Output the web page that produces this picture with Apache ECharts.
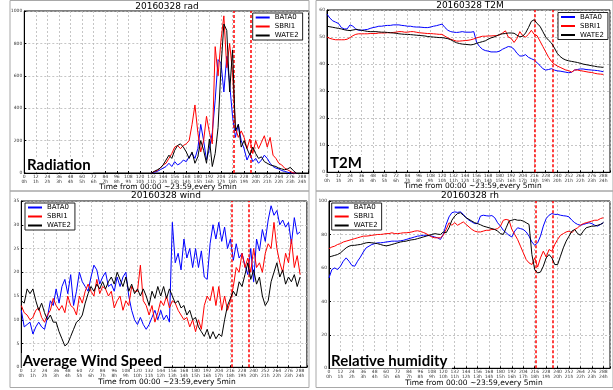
<!DOCTYPE html>
<html><head><meta charset="utf-8">
<script src="https://cdn.jsdelivr.net/npm/echarts@6/dist/echarts.min.js"></script>
<style>html,body{margin:0;padding:0;background:#fff}#c{width:613px;height:390px}</style>
</head><body><div id="c"></div>
<script>
// ---------- DATA ----------
const names = ['BATA0', 'SBRI1', 'WATE2'];
const T = [0,3,6,9,12,15,18,21,24,27,30,33,36,39,42,45,48,51,54,57,60,63,66,69,72,75,78,81,84,87,90,93,96,99,102,105,108,111,114,117,120,123,126,129,132,135,138,141,144,147,150,153,156,159,162,165,168,171,174,177,180,183,186,189,192,195,198,201,204,207,210,213,216,219,222,225,228,231,234,237,240,243,246,249,252,255,258,261,264,267,270,273,276,279,282,285,288];
const tRad = [132,135,138,141,144,147,150,153,156,159,162,165,168,171,174,177,180,183,186,189,192,195,198,201,204,207,210,213,216,219,222,225,228,231,234,237,240,243,246,249,252,255,258,261,264,267,270,273,276,279,282];

const radBlue = [0,5,10,20,30,40,60,40,70,50, 60,80,70,100,120,90,150,300,200,80, 150,250,450,700,680,500,720,550,350,220, 300,200,150,80,120,70,90,60,80,110, 90,60,40,30,25,15,10,5,0,0, 0];
const radRed = [0,10,15,30,50,60,90,120,160,170, 150,170,180,200,300,420,250,130,200,350, 250,180,780,600,820,970,650,800,620,280, 220,260,220,150,210,120,200,150,190,230, 160,220,110,90,60,50,30,20,10,0, 0];
const radBlack = [0,10,20,30,50,80,110,90,140,170, 180,160,130,90,130,60,100,200,140,60, 210,40,120,280,650,920,880,500,760,260, 300,160,200,150,110,160,120,90,100,70, 60,50,45,40,30,25,20,25,35,15, 0];

const t2mBlue = [58.5,57,56,55.5,55,53.5,53,53,54.5,54, 53,52.5,52.5,52.7,52.8,53.2,53.5,53.7,54,54, 54.2,54.3,54.3,54.5,54.5,54.5,54.3,54.2,54,54, 53.8,53.7,53.7,53.6,53.5,53.5,53.7,54,54.2,54.5, 54.8,53.5,52.5,52,51.8,51.7,51.8,52,51.8,51.8, 51.8,52,48,46.5,45.5,45,44.8,44.5,44.5,44.5, 44.8,45.5,46,46.5,46.3,45.5,44,43,43,43.5, 42.5,42,41.5,40.5,39.5,38.3,37.8,38,38.3,37.8, 37.5,37.4,37.2,37,36.8,37,37.8,38,38.2,38.2, 38,37.9,37.8,37.7,37.6,37.4,37.2];
const t2mRed = [50,49.5,49.2,49,49,49,49,49.2,49.8,50.5, 51,51.2,51.2,51.2,51.2,51.3,51.3,51.3,51.5,51.5, 51.5,51.6,51.6,51.7,51.8,52,52,51.8,51.8,52, 52,51.8,51.6,51.5,51.4,51.3,51.3,51.2,51.1,51, 51,50.3,49.7,49.2,48.8,48.5,48.5,48.6,48.7,48.8, 49,49.3,49.7,50,50.3,50.3,50.4,50.4,50.5,50.5, 50.8,51.5,52.3,50,49.5,48,49.5,52,50.5,50, 51,52.5,51,50.5,48.5,46.5,44.5,42.5,41,40, 39.3,38.8,38.3,37.8,37.6,37,37.8,37.8,37.6,37.4, 37.2,37,36.9,36.6,36.4,36.3,36.2];
const t2mBlack = [54,53.8,53.6,53.4,53.2,53,52.7,52.5,52.4,52.6, 52.8,52.7,52.5,52.3,52.1,52,52,52,51.9,51.8, 51.8,51.7,51.6,51.5,51.4,51.2,51.1,51,51,50.9, 50.8,50.7,50.6,50.5,50.4,50.2,50.1,50,49.9,49.8, 49.8,49.6,49.4,49,48.4,47.9,47.6,47.4,47.3,47.2, 47.1,47.3,47.7,48,48.3,48.6,49.2,49.7,50,50.5, 51,51.2,51.3,51.5,51.5,51.4,50.7,50.1,50.3,51.5, 53.5,55.8,56.4,55,54,52,50,48.8,47.8,46, 44,42.8,42,41.5,41.2,41,40.8,40.6,40.3,40, 39.8,39.6,39.4,39.2,39,38.9,38.8];

const windBlue = [12,8.5,9,9.5,7,8.5,9.5,8.5,8,10.5, 14,13,16.5,13.5,17,18.5,15.5,19.5,13,16, 20,18,17,16,19,21.5,20.5,17.5,19,20, 17,17.5,16,19,17,19,20,15,12,10, 9,10.5,9,8,9,10.5,12,10,12,10, 11,9.5,30.5,22,24,20.5,27,23,25,21, 25,21,24.5,19,18.5,26,30,27,30.5,26.5, 29.5,25,27,22.5,26,23,24,21.5,19.5,25, 18,27,24.5,29,26.5,31,34,32,33,30, 31,29.5,30.5,26,31.5,28,28.5];
const windRed = [13,11.5,11,10,10.5,12,12.5,10.5,9.5,11, 12,14.5,13,12,13,11.5,15,13,12.5,11, 15,13.5,16,17.5,16,15,18.5,15.5,17,16.5, 15,16,12.5,14,15,12,14,13,17,16, 16,21.5,14,13,11,13,9.5,11.5,14,13, 15,12.5,14,13.5,12,11,10,10.5,8.5,10, 7.5,10,8,13,15,14,17,13,17,12, 15,12,14,17,21,20,24,21,23,20, 25,21,22,20,24,26,25,30.5,25,22, 20,24,22,27,21,23.5,19.5];
const windBlack = [14,13.5,16.5,15.5,16.5,14,12,13.5,11.5,10, 11,9.5,9.5,7.5,6,4.5,5,6.5,8,9.5, 10,11,13.5,15.5,17,16,17.5,16.5,18,16.5, 18,19,17.5,20,18.5,17,19,16,17.5,15.5, 16.5,15,16.5,15,13,16,14.5,17,15,17, 14.5,16.5,15,13.5,14,12.5,13,11,12,10, 10.5,8.5,7.5,6.5,8,6,7.5,6,7,6.5, 10,13,14.5,16,15,18,17,19.5,22,18.5, 20.5,17.5,19,15,13,14,18,20,22,19, 20.5,17.5,19,18,19.5,17,19];

const rhBlue = [54,59,60,59,61,64,66,64,61.5,61, 64,66.5,69.5,72,73,74,74.5,75,75,75.2, 75.5,75.7,76,76,76,76.2,76.5,77,77.5,78, 78.5,79,79.2,79.5,79.5,79.3,79,78.5,78,77, 80,86,90.5,93,93.5,93.2,93.5,92,90,88.5, 87.5,86.5,86.5,91,91.5,91.2,91,91.3,90,87, 85,82.5,81,79.5,78.5,82,84,83.5,83,81.5, 79,75.5,73.5,75,79,85,89.5,91.5,92.5,92, 92,91.5,91.2,91,90.5,88.5,87,86,85.5,86, 86.5,87,86.5,85.5,85,86,87];
const rhRed = [71.5,72.5,73,74,74.5,75.5,76,76.5,77,77.5, 78,78.5,79,79,79.2,79.5,79.7,80,80,80.2, 80.5,80.5,81,80.5,80.5,80.7,81,81,81.2,81.5, 82,82.2,81.8,81.2,80.5,79.5,78.5,78,78,78, 79.5,83,87,85.5,87,85.5,86.5,87.5,86,84.5, 83,82,81.5,81.5,82,82.5,82.5,83,83,83.5, 85,88.5,89,88.5,83,80,77,73,69,65, 63,62,66,60.5,66,70,66.5,71,70,74, 77,79.5,80.5,81.5,82,81,83,84,85.5,86.5, 87,87.5,88,88.5,88.5,89.5,90];
const rhBlack = [66.5,67,67.5,68,69,70.5,72,73,73.5,73.5, 73.8,74,74.5,75,75.2,75,74.8,74.5,74,73.5, 73.2,73.5,74,74.5,75,75.5,75.8,76,76.5,76.8, 77,77.5,78,78.5,79,79.5,80,80.5,80.2,80, 81.5,81,84,88.5,91,92.5,93,91.5,90,89, 88,87,86.5,85.8,85,84.5,84,83.5,83,82, 80.5,80,84,88,88.5,89,88.5,88.5,88,87, 86,68,59,57,57.5,61,66,68,66,62, 62,67,72,76,79,82,83,80.5,79.5,82, 84,84.5,85,85,85.5,86,87];

const vLines = [217, 235];
const panelTitles = ['20160328 rad', '20160328 T2M', '20160328 wind', '20160328 rh'];
const bigLabels = ['Radiation', 'T2M', 'Average Wind Speed', 'Relative humidity'];
const xAxisTitle = 'Time from 00:00 ~23:59,every 5min';
const yMax = [1000, 60, 35, 100];
const yStep = [200, 10, 5, 20];
const xStep = 12;

// ---------- LAYOUT ----------
const colors = ['#0000ff', '#ff0000', '#000000'];
const panels = [
  {grid:{left:24.3, top:11, width:284.4, height:162}, leg:{left:252.7, top:13}, title:[167,6.3], xl:[168,187.5], big:[27,165,66], frame:[10,0.5,299,190.5]},
  {grid:{left:327, top:10, width:286.4, height:162.3}, leg:{left:558, top:12.5}, title:[470,5.5], xl:[473,186.3], big:[330,163,33], frame:[316,0.5,297,190.5]},
  {grid:{left:21.3, top:201, width:285.6, height:166.3}, leg:{left:25, top:203}, title:[166,196], xl:[167,382], big:[22.7,361,140], frame:[10,191,299,196.5]},
  {grid:{left:329, top:201, width:286.3, height:167.3}, leg:{left:331.7, top:203}, title:[470,196], xl:[474,383.5], big:[331,361,120], frame:[316,191,297,196.5]}
];
const seriesData = [
  [tRad, [radBlue, radRed, radBlack]],
  [T, [t2mBlue, t2mRed, t2mBlack]],
  [T, [windBlue, windRed, windBlack]],
  [T, [rhBlue, rhRed, rhBlack]]
];

const chart = echarts.init(document.getElementById('c'), null, {renderer:'canvas'});
const grids = [], xAxes = [], yAxes = [], series = [], legends = [], graphics = [];
const tickFont = {fontSize:4.5, color:'#333', fontFamily:'DejaVu Sans'};
const split = {show:true, lineStyle:{color:'#b8b8b8', type:[2,2], width:0.8}};

panels.forEach((p, i) => {
  grids.push(Object.assign({show:true, borderColor:'#000', borderWidth:1, backgroundColor:'#fff', containLabel:false}, p.grid));
  xAxes.push({
    type:'value', gridIndex:i, min:0, max:295, interval:xStep,
    axisLine:{show:true, lineStyle:{color:'#000', width:1}},
    axisTick:{show:true, inside:true, length:2, lineStyle:{color:'#000'}},
    axisLabel:Object.assign({margin:1.5, lineHeight:5, formatter:v => (v % xStep === 0 ? v + '\n' + (v / xStep) + 'h' : '')}, tickFont),
    splitLine:split
  });
  yAxes.push({
    type:'value', gridIndex:i, min:0, max:yMax[i], interval:yStep[i],
    axisLine:{show:true, lineStyle:{color:'#000', width:1}},
    axisTick:{show:true, inside:true, length:2, lineStyle:{color:'#000'}},
    axisLabel:Object.assign({margin:2, formatter:v => String(v)}, tickFont),
    splitLine:split
  });
  const [xs, arrs] = seriesData[i];
  arrs.forEach((arr, k) => {
    const s = {
      type:'line', name:names[k], xAxisIndex:i, yAxisIndex:i,
      data:xs.map((t, j) => [t, arr[j]]),
      symbol:'none', showSymbol:false, animation:false, z:3 + k,
      lineStyle:{width:1, color:colors[k]}, itemStyle:{color:colors[k]}
    };
    if (k === 0) {
      s.markLine = {
        silent:true, symbol:['none','none'], label:{show:false}, animation:false,
        lineStyle:{color:'#ff0000', type:[3,2], width:1.5},
        data:vLines.map(v => ({xAxis:v}))
      };
    }
    series.push(s);
  });
  legends.push({
    orient:'vertical', left:p.leg.left, top:p.leg.top, itemWidth:14, itemHeight:2, itemGap:0, itemTextGap:8,
    padding:[0,4,0,3], borderColor:'#222', borderWidth:1, backgroundColor:'#fff', selectedMode:false,
    icon:'rect',
    textStyle:{fontSize:7, lineHeight:9, fontFamily:'DejaVu Sans', color:'#000'},
    data:names, z:20
  });
  const f = p.frame;
  graphics.push({type:'rect', shape:{x:f[0], y:f[1], width:f[2], height:f[3]}, style:{fill:null, stroke:'#a8a8a8', lineWidth:1}, z:-10, silent:true});
  graphics.push({type:'text', x:p.title[0], y:p.title[1], z:50, silent:true,
    style:{text:panelTitles[i], font:'9px "DejaVu Sans"', fill:'#000', align:'center', verticalAlign:'middle', textAlign:'center', textVerticalAlign:'middle'}});
  graphics.push({type:'text', x:p.xl[0], y:p.xl[1], z:50, silent:true,
    style:{text:xAxisTitle, font:'7.5px "DejaVu Sans"', fill:'#000', align:'center', verticalAlign:'middle', textAlign:'center', textVerticalAlign:'middle'}});
  graphics.push({type:'rect', shape:{x:p.big[0]-1, y:p.big[1]-8, width:p.big[2]+2, height:15.5}, style:{fill:'#fff'}, z:60, silent:true});
  graphics.push({type:'text', x:p.big[0], y:p.big[1], z:61, silent:true,
    style:{text:bigLabels[i], font:'bold 15px Lato', fill:'#000', align:'left', verticalAlign:'middle', textAlign:'left', textVerticalAlign:'middle'}});
});

chart.setOption({
  animation:false, backgroundColor:'#fff',
  grid:grids, xAxis:xAxes, yAxis:yAxes, series:series, legend:legends,
  graphic:{elements:graphics}
});
</script></body></html>
